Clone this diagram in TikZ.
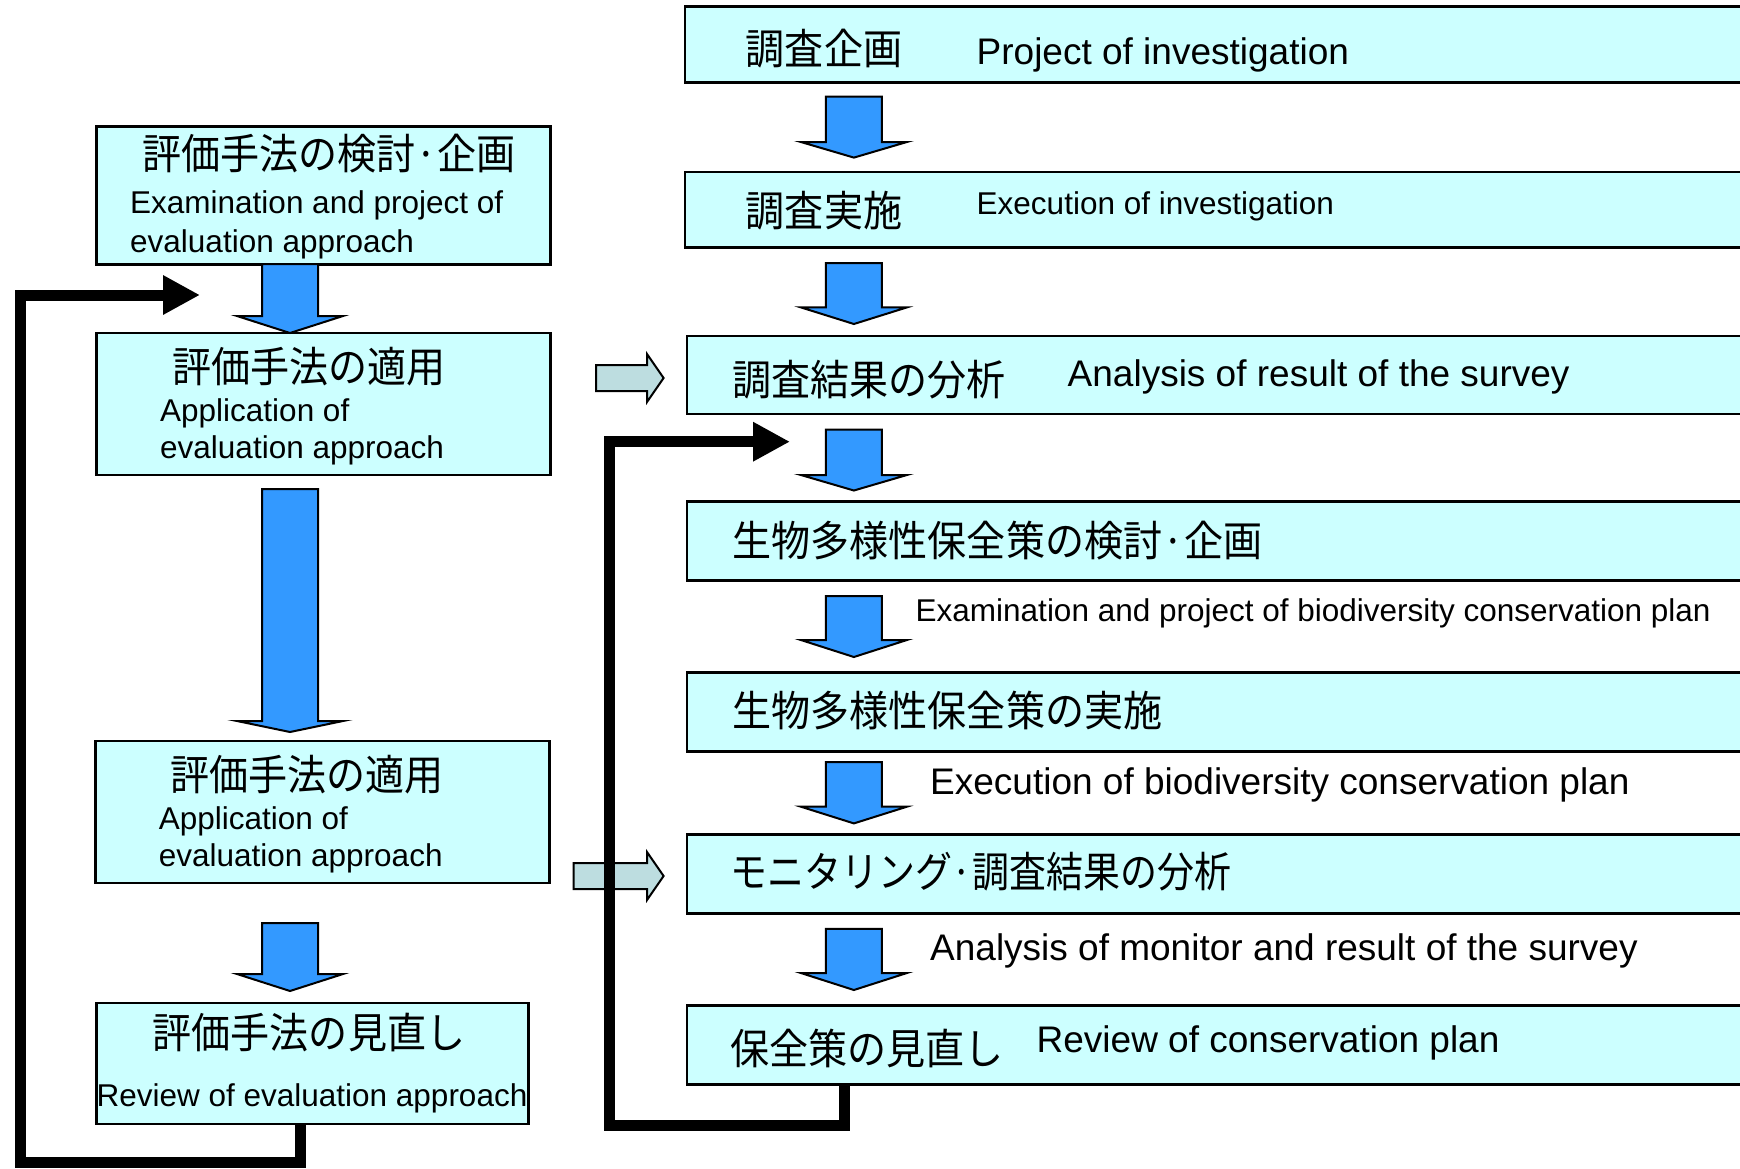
\documentclass[tikz,border=0pt]{standalone}
\usepackage{fontspec}
\setmainfont{Liberation Sans}
\newfontfamily\jpfont[FakeStretch=0.93]{Noto Sans CJK JP}
\newfontfamily\jpnarrow[FakeStretch=0.88]{Noto Sans CJK JP}
\usepackage{tikz}
\usetikzlibrary{arrows.meta,calc}

\definecolor{boxcyan}{RGB}{204,255,255}
\definecolor{arrowblue}{RGB}{51,153,255}
\definecolor{arrowgray}{RGB}{189,221,224}

% thick blue arrow pointing down: x, top, start of head, tip
\newcommand{\blockdown}[4]{%
  \draw[blockarrow] (#1-28,#2) -- (#1+28,#2) -- (#1+28,#3) -- (#1+53,#3)
    -- (#1,#4) -- (#1-53,#3) -- (#1-28,#3) -- cycle;}
% pale arrow pointing right: left end, y, start of head, tip
\newcommand{\blockright}[4]{%
  \draw[hollowarrow] (#1,#2-13) -- (#3,#2-13) -- (#3,#2-24) -- (#4,#2)
    -- (#3,#2+24) -- (#3,#2+13) -- (#1,#2+13) -- cycle;}

\tikzset{
  stagebox/.style={draw, line width=2.8pt, fill=boxcyan, inner sep=0pt},
  jptext/.style={font=\jpfont\fontsize{42}{48}\selectfont, inner sep=0pt},
  entext/.style={font=\fontsize{37}{44}\selectfont, inner sep=0pt},
  ensmall/.style={font=\fontsize{31.5}{38}\selectfont, inner sep=0pt},
  blockarrow/.style={draw, line width=2pt, fill=arrowblue},
  hollowarrow/.style={draw, line width=2pt, fill=arrowgray},
  feedback/.style={line width=11pt, -{Triangle[length=37pt,width=37pt]}},
}

\begin{document}
\begin{tikzpicture}[x=1pt,y=-1pt]
  \useasboundingbox (0,0) rectangle (1740,1168);
  \clip (0,0) rectangle (1740,1168);

  % evaluation approach (left)
  \node[stagebox, minimum width=453.9pt, minimum height=137.6pt] (evalplan) at (323.45,195.3) {};
  \node[stagebox, minimum width=453.9pt, minimum height=142pt] (evalapply) at (323.45,404) {};
  \node[stagebox, minimum width=453.9pt, minimum height=142pt] (evalapply2) at (322.35,812) {};
  \node[stagebox, minimum width=431.7pt, minimum height=121pt] (evalreview) at (312.35,1063.5) {};

  \node[jptext, anchor=base] (evalplan-jp) at (329,169) {評価手法の検討·企画};
  \node[ensmall, anchor=base west] (evalplan-en1) at (130,213) {Examination and project of};
  \node[ensmall, anchor=base west] (evalplan-en2) at (130,252) {evaluation approach};
  \node[jptext, anchor=base] (evalapply-jp) at (309,382) {評価手法の適用};
  \node[ensmall, anchor=base west] (evalapply-en1) at (160,421) {Application of};
  \node[ensmall, anchor=base west] (evalapply-en2) at (160,458) {evaluation approach};
  \node[jptext, anchor=base] (evalapply2-jp) at (307,790.6) {評価手法の適用};
  \node[ensmall, anchor=base west] (evalapply2-en1) at (158.7,829) {Application of};
  \node[ensmall, anchor=base west] (evalapply2-en2) at (158.7,866.7) {evaluation approach};
  \node[jptext, anchor=base] (evalreview-jp) at (309,1048) {評価手法の見直し};
  \node[ensmall, anchor=base] (evalreview-en) at (312,1106) {Review of evaluation approach};

  \blockdown{290}{264}{316}{333}
  \blockdown{290}{489}{721}{732}
  \blockdown{290}{923}{974}{991}

  % survey and conservation (right)
  \node[stagebox, minimum width=1115pt, minimum height=75.4pt] (survplan) at (1242.5,44.4) {};
  \node[stagebox, minimum width=1115pt, minimum height=75.5pt] (survexec) at (1242.5,209.75) {};
  \node[stagebox, minimum width=1113pt, minimum height=78pt] (survanalysis) at (1243.5,375) {};
  \node[stagebox, minimum width=1113pt, minimum height=78.8pt] (consplan) at (1243.5,541) {};
  \node[stagebox, minimum width=1113pt, minimum height=78.8pt] (consexec) at (1243.5,711.9) {};
  \node[stagebox, minimum width=1113pt, minimum height=78.8pt] (monitor) at (1243.5,873.9) {};
  \node[stagebox, minimum width=1113pt, minimum height=78.8pt] (consreview) at (1243.5,1044.8) {};

  \node[jptext, anchor=base west] (survplan-jp) at (745.7,64.8) {調査企画};
  \node[entext, anchor=base west] (survplan-en) at (976.5,64) {Project of investigation};
  \node[jptext, anchor=base west] (survexec-jp) at (745.7,226.8) {調査実施};
  \node[ensmall, anchor=base west] (survexec-en) at (976.5,214) {Execution of investigation};
  \node[jptext, anchor=base west] (survanalysis-jp) at (732.4,395.5) {調査結果の分析};
  \node[entext, anchor=base west] (survanalysis-en) at (1067.5,386) {Analysis of result of the survey};
  \node[jptext, anchor=base west] (consplan-jp) at (732.4,556.4) {生物多様性保全策の検討·企画};
  \node[ensmall, anchor=base west] (consplan-en) at (915.5,621.4) {Examination and project of biodiversity conservation plan};
  \node[jptext, anchor=base west] (consexec-jp) at (732.4,726) {生物多様性保全策の実施};
  \node[entext, anchor=base west] (consexec-en) at (930,794.3) {Execution of biodiversity conservation plan};
  \node[jptext, font=\jpnarrow\fontsize{42}{48}\selectfont, anchor=base west] (monitor-jp) at (730,887) {モニタリング·調査結果の分析};
  \node[entext, anchor=base west] (monitor-en) at (930,960.8) {Analysis of monitor and result of the survey};
  \node[jptext, anchor=base west] (consreview-jp) at (730,1064.7) {保全策の見直し};
  \node[entext, anchor=base west] (consreview-en) at (1036.5,1052.9) {Review of conservation plan};

  \blockdown{853.9}{96.5}{142}{157.6}
  \blockdown{853.9}{263}{307.4}{324}
  \blockdown{853.9}{429.5}{475}{490.5}
  \blockdown{853.9}{596}{640}{657}
  \blockdown{853.9}{762}{806.7}{823.4}
  \blockdown{853.9}{928.8}{973}{990}

  % application feeds the right column
  \blockright{596}{378}{647}{663.6}
  \blockright{573.7}{876}{647}{663.6}

  % feedback loops
  \coordinate (evalreturn) at (200,295);
  \coordinate (consreturn) at (790,441.7);
  \draw[feedback] ([xshift=-11.6pt]evalreview.south) |- (20,1162) |- (evalreturn);
  \draw[feedback] ([xshift=158.6pt]consreview.south west) |- (609,1125) |- (consreturn);
\end{tikzpicture}
\end{document}
